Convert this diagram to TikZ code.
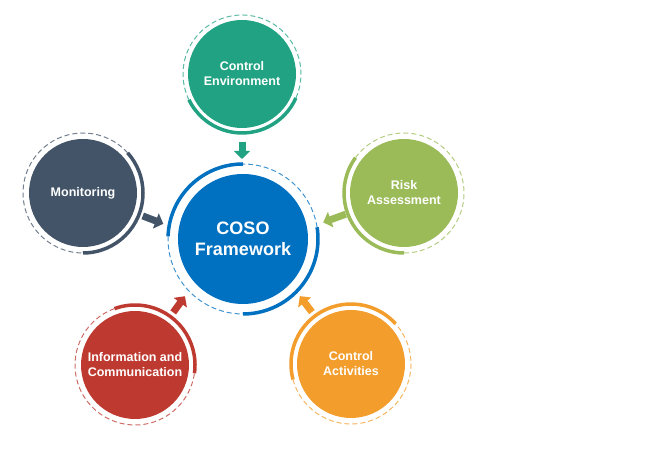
\documentclass[tikz,border=0pt]{standalone}
\usepackage{xcolor}
\usepackage{fontspec}
\setmainfont{Liberation Sans}
\usetikzlibrary{arrows.meta, calc}

\definecolor{cosoblue}{RGB}{0,112,192}
\definecolor{envgreen}{RGB}{33,163,131}
\definecolor{monslate}{RGB}{67,84,104}
\definecolor{riskgreen}{RGB}{155,187,89}
\definecolor{infored}{RGB}{190,58,48}
\definecolor{actorange}{RGB}{242,157,44}

\begin{document}
\begin{tikzpicture}[x=1pt, y=1pt,
        part/.style={circle, fill=#1, text=white, align=center, inner sep=0pt, minimum size=108pt, font=\fontsize{12.5}{15}\selectfont\bfseries},
        core/.style={circle, fill=cosoblue, text=white, align=center, inner sep=0pt, minimum size=130pt, font=\fontsize{18}{21}\selectfont\bfseries},
        solidring/.style={draw=#1, line width=3.5pt},
        dashring/.style={draw=#1!75, line width=1pt, dash pattern=on 5pt off 3pt},
        push/.style={draw=#1, line width=7pt, -{Triangle[length=8pt, width=16pt]}}
        ]
        \useasboundingbox (0,0) rectangle (659,457);

        \node [core] (coso) at (243,218) {COSO\\Framework};
        \node [part=envgreen] (ce) at (242,383) {Control\\Environment};
        \node [part=monslate] (mon) at (83,264) {Monitoring};
        \node [part=riskgreen] (risk) at (404,264) {Risk\\Assessment};
        \node [part=infored] (info) at (135,92) {Information and\\Communication};
        \node [part=actorange] (act) at (351,93) {Control\\Activities};

        \foreach \n/\c/\r/\a/\b in {ce/envgreen/59/206/336, mon/monslate/60/-90/42, risk/riskgreen/60/144/270, info/infored/60/-8/110, act/actorange/60/42/195} {
            \pgfmathsetmacro\e{\a+360}
            \draw [solidring=\c] (\n) ++(\a:\r) arc[start angle=\a, end angle=\b, radius=\r];
            \draw [dashring=\c] (\n) ++(\b:\r) arc[start angle=\b, end angle=\e, radius=\r];
        }

        \draw [solidring=cosoblue] (coso) ++(90:75) arc[start angle=90, end angle=178, radius=75];
        \draw [dashring=cosoblue] (coso) ++(178:75) arc[start angle=178, end angle=270, radius=75];
        \draw [solidring=cosoblue] (coso) ++(270:75) arc[start angle=270, end angle=369, radius=75];
        \draw [dashring=cosoblue] (coso) ++(9:75) arc[start angle=9, end angle=90, radius=75];

        \draw [push=envgreen] ($(ce)+(-90:68)$) -- ($(ce)+(-90:85)$);
        \draw [push=monslate] ($(mon)+(-21:64)$) -- ($(mon)+(-21:86)$);
        \draw [push=riskgreen] ($(risk)+(200:62)$) -- ($(risk)+(200:86)$);
        \draw [push=infored] ($(info)+(54:65)$) -- ($(info)+(54:85)$);
        \draw [push=actorange] ($(act)+(127:65)$) -- ($(act)+(127:85)$);
    \end{tikzpicture}
\end{document}
